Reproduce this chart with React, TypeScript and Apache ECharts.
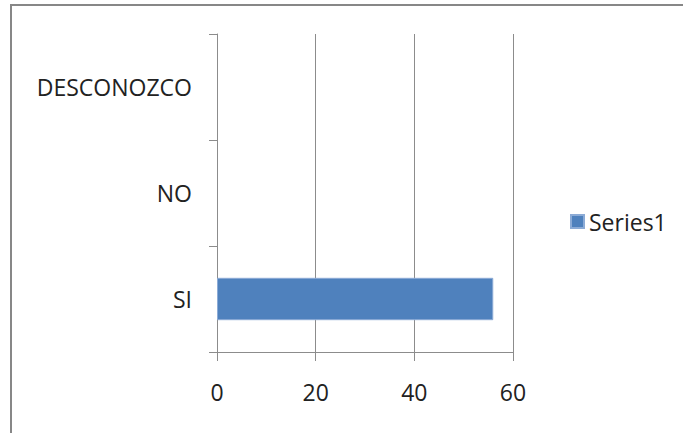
import React, { useEffect, useRef } from "react";
import * as echarts from "echarts";

const categories = ["SI", "NO", "DESCONOZCO"];
const seriesName = "Series1";
const values: (number | null)[] = [56, null, null];
const xMin = 0;
const xMax = 60;
const xInterval = 20;

export default function App() {
  const ref = useRef<HTMLDivElement>(null);
  useEffect(() => {
    if (!ref.current) return;
    const chart = echarts.init(ref.current, null, { renderer: "svg" });
    const font = "'Open Sans', 'Noto Sans', sans-serif";
    chart.setOption({
      animation: false,
      backgroundColor: "#ffffff",
      graphic: [
        {
          type: "rect",
          shape: { x: 11, y: 5, width: 720, height: 460 },
          style: { fill: "none", stroke: "#878787", lineWidth: 2 },
          silent: true,
        },
      ],
      legend: {
        show: true,
        orient: "vertical",
        left: 565,
        top: 205,
        itemWidth: 13,
        itemHeight: 13,
        itemGap: 6,
        icon: "rect",
        textStyle: { fontFamily: font, fontSize: 23, color: "#222222" },
        data: [seriesName],
      },
      grid: { left: 217, right: 170, top: 34, bottom: 81, containLabel: false },
      xAxis: {
        type: "value",
        min: xMin,
        max: xMax,
        interval: xInterval,
        axisLine: { show: true, lineStyle: { color: "#8c8c8c", width: 1 } },
        axisTick: { show: true, length: 9, lineStyle: { color: "#8c8c8c" } },
        splitLine: { show: true, lineStyle: { color: "#8c8c8c", width: 1 } },
        axisLabel: { margin: 28, fontFamily: font, fontSize: 23, color: "#222222" },
      },
      yAxis: {
        type: "category",
        data: categories,
        axisLine: { show: true, lineStyle: { color: "#8c8c8c", width: 1 } },
        axisTick: { show: true, length: 8, alignWithLabel: false, lineStyle: { color: "#8c8c8c" } },
        splitLine: { show: false },
        axisLabel: { margin: 25, fontFamily: font, fontSize: 23, color: "#222222" },
      },
      series: [
        {
          name: seriesName,
          type: "bar",
          data: values,
          barWidth: "40%",
          itemStyle: { color: "#4f81bd", borderColor: "#8cabd6", borderWidth: 1 },
        },
      ],
    });
    return () => chart.dispose();
  }, []);
  return (
    <div
      ref={ref}
      style={{ position: "absolute", left: 0, top: 0, width: 683, height: 433 }}
    />
  );
}
